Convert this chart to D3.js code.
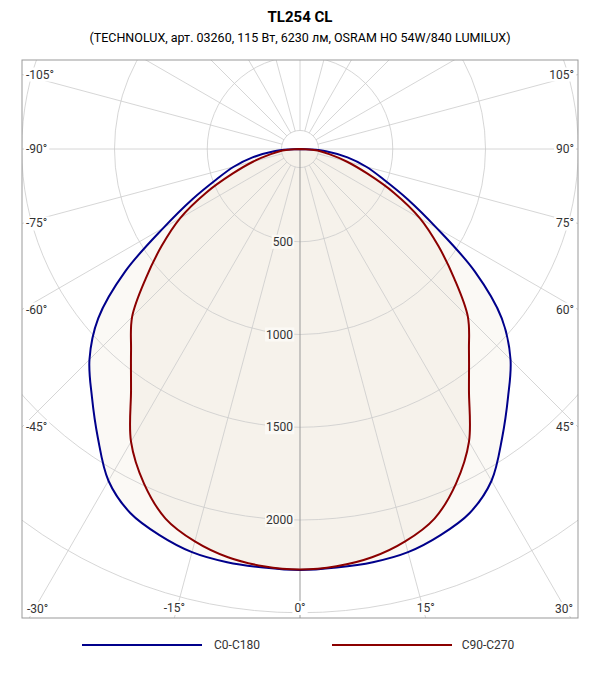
<!DOCTYPE html>
<html><head><meta charset="utf-8">
<script src="https://cdn.jsdelivr.net/npm/d3@7"></script>
<style>body{margin:0;background:#fff;font-family:Roboto,"Noto Sans",sans-serif}</style>
</head><body><svg id="c" width="600" height="680"></svg>
<script>
const angles = [0,5,10,15,20,25,30,35,40,45,50,55,60,65,70,75,80,85,87.5,90];
const c0c180 = [2270,2265,2262,2250,2215,2165,2065,1900,1745,1605,1420,1150,850,640,480,370,260,140,60,0];
const c90c270 = [2267,2258,2235,2190,2120,1990,1822,1588,1417,1280,1085,910,747,560,385,260,160,95,50,0];
const radialTicks = [500,1000,1500,2000];
const angleLabels = [-105,-90,-75,-60,-45,-30,-15,0,15,30,45,60,75,90,105];
const title = "TL254 CL";
const subtitle = "(TECHNOLUX, арт. 03260, 115 Вт, 6230 лм, OSRAM HO 54W/840 LUMILUX)";
const seriesNames = ["C0-C180","C90-C270"];

const svg = d3.select("#c");
const L=22,R=578,T=60,B=618, cx=300, cy=149;
const r = d3.scaleLinear().domain([0,2000]).range([0,371]);
const pt = (a,v)=>[cx + r(v)*Math.sin(a*Math.PI/180), cy + r(v)*Math.cos(a*Math.PI/180)];

svg.append("text").attr("x",300).attr("y",22).attr("text-anchor","middle").attr("font-size",15).attr("font-weight","bold").text(title);
svg.append("text").attr("x",300).attr("y",42).attr("text-anchor","middle").attr("font-size",12.5).text(subtitle);

svg.append("clipPath").attr("id","clip").append("rect").attr("x",L).attr("y",T).attr("width",R-L).attr("height",B-T);
const g = svg.append("g").attr("clip-path","url(#clip)");

function full(vals){
  const pts=[];
  angles.forEach((a,i)=>pts.push(pt(-a,vals[i])));
  const rev=[];
  for(let i=angles.length-1;i>=0;i--) rev.push(pt(angles[i],vals[i]));
  return rev.concat(pts.slice(1));
}
const line = d3.line().curve(d3.curveCatmullRom.alpha(0.5));
g.append("path").attr("d",line(full(c0c180))+"Z").attr("fill","#fbf9f5");
g.append("path").attr("d",line(full(c90c270))+"Z").attr("fill","#f6f2eb");

[100,500,1000,1500,2000,2500,3000,3500].forEach(v=>g.append("circle").attr("cx",cx).attr("cy",cy).attr("r",r(v)).attr("fill","none").attr("stroke","#ccc").attr("stroke-width",0.8));
for(let a=0;a<360;a+=15){
  if(a===0) continue;
  const p0=pt(a,100), p1=pt(a,5000);
  g.append("line").attr("x1",p0[0]).attr("y1",p0[1]).attr("x2",p1[0]).attr("y2",p1[1]).attr("stroke","#ccc").attr("stroke-width",0.8);
}
g.append("line").attr("x1",cx).attr("y1",cy).attr("x2",cx).attr("y2",B).attr("stroke","#999").attr("stroke-width",1);

g.append("path").attr("d",line(full(c0c180))).attr("fill","none").attr("stroke","#00008b").attr("stroke-width",2);
g.append("path").attr("d",line(full(c90c270))).attr("fill","none").attr("stroke","#8b0000").attr("stroke-width",2);

radialTicks.forEach(v=>{
  const t=svg.append("text").attr("x",293).attr("y",cy+r(v)+4).attr("text-anchor","end").attr("font-size",12).attr("fill","#333").text(v);
  const bb=t.node().getBBox();
  svg.insert("rect",()=>t.node()).attr("x",bb.x-1).attr("y",bb.y).attr("width",bb.width+2).attr("height",bb.height).attr("fill","#fbf9f5");
});

angleLabels.forEach(a=>{
  const s=Math.sin(a*Math.PI/180), c=Math.cos(a*Math.PI/180);
  let tMax=1e9;
  if(s<0) tMax=Math.min(tMax,(L-cx)/s);
  if(s>0) tMax=Math.min(tMax,(R-cx)/s);
  if(c>0) tMax=Math.min(tMax,(B-cy)/c);
  if(c<0) tMax=Math.min(tMax,(T-cy)/c);
  let x=cx+tMax*s, y=cy+tMax*c, anchor="middle";
  if(Math.abs(x-L)<1){x=L+4;anchor="start";}
  else if(Math.abs(x-R)<1){x=R-4;anchor="end";}
  if(Math.abs(y-B)<1) y=B-6;
  else if(Math.abs(y-T)<1) y=T+14;
  else y=y+4;
  if(Math.abs(a)===30){x = a<0 ? L+5 : R-5; anchor = a<0?"start":"end"; y=B-5;}
  const t=svg.append("text").attr("x",x).attr("y",y).attr("text-anchor",anchor).attr("font-size",12).attr("fill","#333").text(a+"°");
  const bb=t.node().getBBox();
  svg.insert("rect",()=>t.node()).attr("x",bb.x-2).attr("y",bb.y).attr("width",bb.width+4).attr("height",bb.height).attr("fill","#fff");
});

svg.append("rect").attr("x",L).attr("y",T).attr("width",R-L).attr("height",B-T).attr("fill","none").attr("stroke","#999");

[[82,202,237,"#00008b"],[332,452,488,"#8b0000"]].forEach((d,i)=>{
  svg.append("line").attr("x1",d[0]).attr("x2",d[1]).attr("y1",645).attr("y2",645).attr("stroke",d[3]).attr("stroke-width",2);
  svg.append("text").attr("x",d[2]).attr("y",649).attr("text-anchor","middle").attr("font-size",12).attr("fill","#333").text(seriesNames[i]);
});
</script></body></html>
